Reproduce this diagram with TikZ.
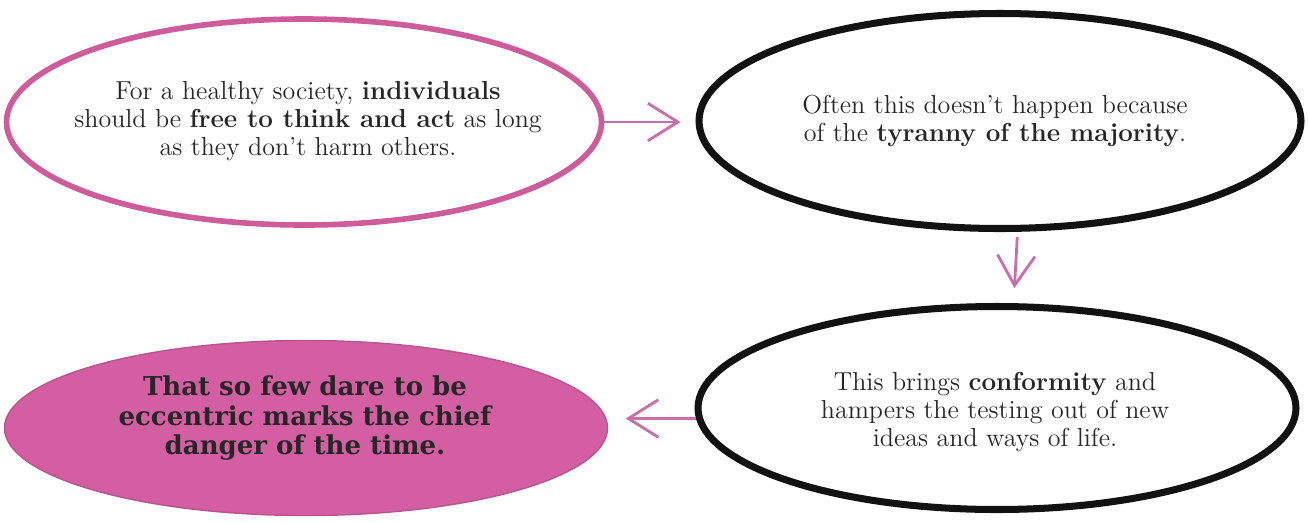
\documentclass[tikz,border=0pt]{standalone}
\usepackage{fontspec}
\newfontfamily\slabfont{DejaVu Serif}
\usepackage{xcolor}
\usetikzlibrary{positioning, arrows.meta, shapes.geometric}
\definecolor{penpink}{RGB}{206,92,154}
\definecolor{fillpink}{RGB}{212,94,162}
\definecolor{arrowpink}{RGB}{202,110,170}
\definecolor{inkgrey}{RGB}{38,38,38}
\definecolor{inkblack}{RGB}{18,18,18}

\begin{document}
\begin{tikzpicture}[
  bubble/.style={ellipse, draw=inkblack, line width=4pt, inner sep=0pt},
  txt/.style={align=center, text=inkgrey, font=\fontsize{14.8}{15.9}\selectfont},
  big/.style={align=center, text=inkgrey, font=\slabfont\bfseries\fontsize{14.8}{17}\selectfont},
  arr/.style={-{Straight Barb[length=0.6cm, width=0.75cm]}, line width=1.6pt, draw=arrowpink}
]
  \useasboundingbox (0,0) rectangle (26.18,-10.44);

  \node[bubble, draw=penpink, line width=3.2pt, minimum width=11.9cm, minimum height=4.12cm] (healthy) at (6.08,-2.44) {};
  \node[bubble, minimum width=12.04cm, minimum height=4.3cm] (tyranny) at (20.0,-2.42) {};
  \node[bubble, minimum width=11.96cm, minimum height=4.06cm] (conformity) at (19.94,-8.16) {};
  \node[bubble, fill=fillpink, draw=fillpink!88!black, line width=0.8pt, minimum width=12.06cm, minimum height=3.5cm] (eccentric) at (6.12,-8.56) {};

  \node[txt] (healthy-txt) at (6.16,-2.42) {For a healthy society, \textbf{individuals}\\ should be \textbf{free to think and act} as long\\ as they don't harm others.};
  \node[txt] (tyranny-txt) at (19.9,-2.42) {Often this doesn't happen because\\ of the \textbf{tyranny of the majority}.};
  \node[txt] (conformity-txt) at (19.9,-8.24) {This brings \textbf{conformity} and\\ hampers the testing out of new\\ ideas and ways of life.};
  \node[big] (eccentric-txt) at (6.1,-8.36) {That so few dare to be\\ eccentric marks the chief\\ danger of the time.};

  \draw[arr, shorten >=0.3cm] (healthy.east) -- (healthy.east -| tyranny.west);
  \draw[arr, shorten <=0.1cm, shorten >=0.3cm] (tyranny.-81) -- (conformity.81);
  \draw[arr, shorten >=0.35cm] (conformity.182) -- (conformity.182 -| eccentric.east);
\end{tikzpicture}
\end{document}
